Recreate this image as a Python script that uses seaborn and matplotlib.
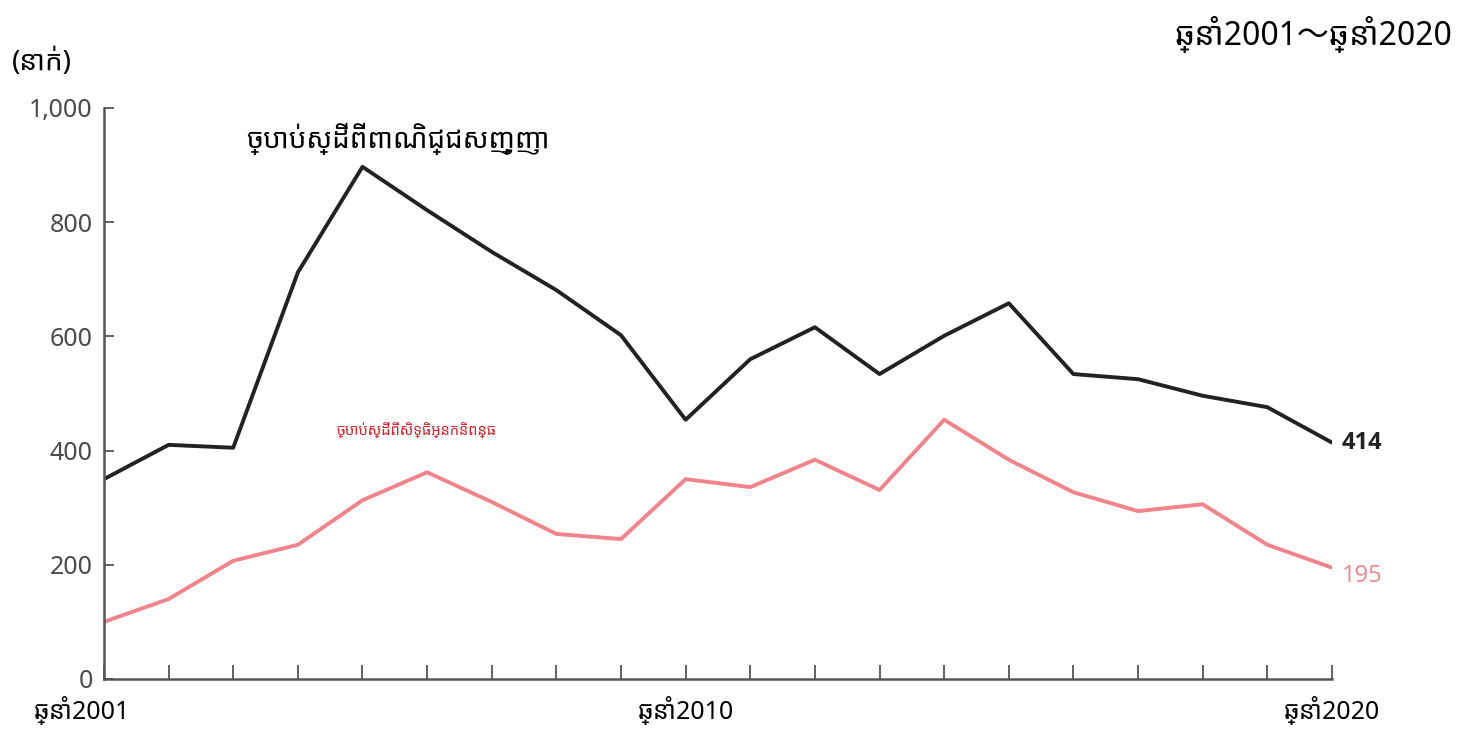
import matplotlib
matplotlib.use("Agg")
import matplotlib.pyplot as plt
import matplotlib.transforms as mtransforms
from matplotlib import font_manager
import seaborn as sns
import pandas as pd

years = list(range(2001, 2021))
trademark = [350, 410, 405, 712, 897, 821, 748, 681, 602, 454,
             560, 616, 534, 601, 658, 534, 525, 496, 476, 414]
copyright_ = [100, 140, 207, 235, 313, 362, 310, 254, 245, 350,
              336, 384, 331, 454, 384, 327, 294, 306, 235, 195]
series_names = ["ច្បាប់ស្ដីពីពាណិជ្ជសញ្ញា", "ច្បាប់ស្ដីពីសិទ្ធិអ្នកនិពន្ធ"]
yticks = [0, 200, 400, 600, 800, 1000]
ytick_labels = ["0", "200", "400", "600", "800", "1,000"]
xlabel_years = {2001: "ឆ្នាំ2001", 2010: "ឆ្នាំ2010", 2020: "ឆ្នាំ2020"}

df = pd.DataFrame({
    "year": years * 2,
    "count": trademark + copyright_,
    "law": [series_names[0]] * len(years) + [series_names[1]] * len(years),
})

sns.set_style("white")
# pick an installed font with Khmer glyphs, sans first
khmer = sorted(set(f.name for f in font_manager.fontManager.ttflist
                   if "khmer" in f.name.lower()),
               key=lambda n: ("sans" not in n.lower(), n))
families = khmer + ["DejaVu Sans", "Noto Sans CJK SC"]
plt.rcParams["font.family"] = families

fig = plt.figure(figsize=(14.6, 7.33), dpi=100)
ax = fig.add_axes([0.0712, 0.0737, 0.8411, 0.779])

sns.lineplot(data=df, x="year", y="count", hue="law",
             palette={series_names[0]: "#222222", series_names[1]: "#f2838b"},
             linewidth=2.8, legend=False, ax=ax)

ax.set_xlim(2001, 2020)
ax.set_ylim(0, 1000)
ax.set_yticks(yticks)
ax.set_yticklabels(ytick_labels)
ax.set_xticks(years)
ax.set_xticklabels([xlabel_years.get(y, "") for y in years])
ax.set_xlabel("")
ax.set_ylabel("")

for side in ["top", "right"]:
    ax.spines[side].set_visible(False)
for side in ["left", "bottom"]:
    ax.spines[side].set_color("#555555")
    ax.spines[side].set_linewidth(1.8)

ax.tick_params(axis="y", left=True, direction="in", length=7, width=1.3,
               color="#555555", labelsize=18, labelcolor="#4a4a4a", pad=8)
ax.tick_params(axis="x", bottom=True, direction="in", length=10, width=1.3,
               color="#555555", labelsize=18, labelcolor="black", pad=12)

# first year label sits a bit left of its tick in the original
first = ax.get_xticklabels()[0]
first.set_transform(first.get_transform() +
                    mtransforms.ScaledTranslation(-0.22, 0, fig.dpi_scale_trans))

# end values
ax.text(2020.15, trademark[-1], str(trademark[-1]), fontsize=17, fontweight="bold",
        family=["Open Sans"], color="#222222", va="center", ha="left")
ax.text(2020.15, copyright_[-1] - 15, str(copyright_[-1]), fontsize=17,
        family=["Open Sans"], color="#f2838b", va="center", ha="left")

# series labels
ax.text(2003.2, 945, series_names[0], fontsize=20, color="black", va="center")
ax.text(2004.6, 435, series_names[1], fontsize=10.5, color="#d61f26", va="center")

fig.text(0.008, 0.915, "(នាក់)", fontsize=20, color="black", va="center")
fig.text(0.995, 0.953, "ឆ្នាំ2001～ឆ្នាំ2020", fontsize=23, color="black",
         va="center", ha="right")

fig.savefig("out.png", dpi=100)
